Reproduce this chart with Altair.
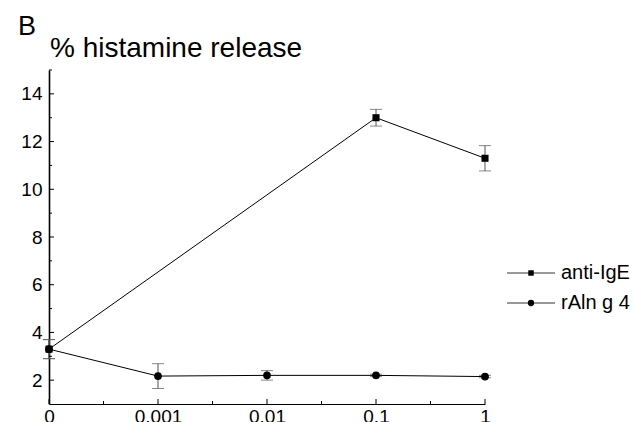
import json
import altair as alt
import pandas as pd

# ---- data ----
conc_labels = ["0", "0.001", "0.01", "0.1", "1"]

anti_ige_conc = ["0", "0.1", "1"]
anti_ige_mean = [3.3, 13.0, 11.3]
anti_ige_err = [0.4, 0.35, 0.53]

raln_conc = ["0", "0.001", "0.01", "0.1", "1"]
raln_mean = [3.3, 2.17, 2.2, 2.2, 2.15]
raln_err = [0.4, 0.52, 0.2, 0.05, 0.05]

series_names = ["anti-IgE", "rAln g 4"]

y_major = [2, 4, 6, 8, 10, 12, 14]
y_minor = [3, 5, 7, 9, 11, 13, 15]

FONT = "Liberation Sans"

rows = []
for name, concs, means, errs in [
    (series_names[0], anti_ige_conc, anti_ige_mean, anti_ige_err),
    (series_names[1], raln_conc, raln_mean, raln_err),
]:
    for c, m, e in zip(concs, means, errs):
        rows.append({"series": name, "conc": c, "pos": conc_labels.index(c),
                     "mean": m, "lo": m - e, "hi": m + e})
df = pd.DataFrame(rows)

x_major = list(range(len(conc_labels)))
x_minor = [i + 0.5 for i in range(len(conc_labels) - 1)]

xscale = alt.Scale(domain=[0, len(conc_labels) - 1], nice=False, zero=False)
yscale = alt.Scale(domain=[1, 15], nice=False, zero=False)

label_expr = json.dumps(conc_labels) + "[datum.value]"

XAXIS = alt.Axis(values=x_major, labelExpr=label_expr, ticks=False, tickSize=0,
                 grid=False, title=None, labelFontSize=19, labelFont=FONT,
                 labelColor="black", labelPadding=3, domainColor="black",
                 domainWidth=1.2, labelFlush=False, labelOverlap=False)
YAXIS = alt.Axis(values=y_major, ticks=False, tickSize=0, grid=False, title=None,
                 labelFontSize=19, labelFont=FONT, labelColor="black",
                 labelPadding=7, domainColor="black", domainWidth=1.6)


def X(field):
    return alt.X(field, scale=xscale, axis=XAXIS, title=None)


def Y(field):
    return alt.Y(field, scale=yscale, axis=YAXIS, title=None)


base = alt.Chart(df)

lines = base.mark_line(color="black", strokeWidth=1).encode(
    x=X("pos:Q"), y=Y("mean:Q"), detail="series:N", order="pos:Q",
)

err_rule = base.mark_rule(color="#555555", strokeWidth=1).encode(
    x=X("pos:Q"), y=Y("lo:Q"), y2="hi:Q",
)
cap_lo = base.mark_tick(color="#555555", thickness=1, size=12, orient="horizontal").encode(
    x=X("pos:Q"), y=Y("lo:Q"),
)
cap_hi = base.mark_tick(color="#555555", thickness=1, size=12, orient="horizontal").encode(
    x=X("pos:Q"), y=Y("hi:Q"),
)

points = base.mark_point(filled=True, opacity=1, color="black").encode(
    x=X("pos:Q"), y=Y("mean:Q"),
    shape=alt.Shape("series:N", scale=alt.Scale(domain=series_names, range=["square", "circle"]),
                    legend=None),
    size=alt.Size("series:N", scale=alt.Scale(domain=series_names, range=[50, 60]), legend=None),
)

# inward ticks
H = 334
ymaj = alt.Chart(pd.DataFrame({"v": y_major})).mark_rule(color="black", strokeWidth=1).encode(
    y=Y("v:Q"), x=alt.value(0), x2=alt.value(5))
ymin = alt.Chart(pd.DataFrame({"v": y_minor})).mark_rule(color="black", strokeWidth=1).encode(
    y=Y("v:Q"), x=alt.value(0), x2=alt.value(3))
xmaj = alt.Chart(pd.DataFrame({"v": x_major})).mark_rule(color="black", strokeWidth=1).encode(
    x=X("v:Q"), y=alt.value(H), y2=alt.value(H - 5))
xmin = alt.Chart(pd.DataFrame({"v": x_minor})).mark_rule(color="black", strokeWidth=1).encode(
    x=X("v:Q"), y=alt.value(H), y2=alt.value(H - 3))

# titles
panel = alt.Chart(pd.DataFrame({"t": ["B"]})).mark_text(
    font=FONT, fontSize=27, align="left", baseline="alphabetic", color="black"
).encode(text="t:N", x=alt.value(-31), y=alt.value(-35))
ytitle = alt.Chart(pd.DataFrame({"t": ["% histamine release"]})).mark_text(
    font=FONT, fontSize=28, align="left", baseline="alphabetic", color="black"
).encode(text="t:N", x=alt.value(1), y=alt.value(-13))

# legend (drawn by hand)
leg = []
for name, shape, sz, yy in [(series_names[0], "square", 30, 203), (series_names[1], "circle", 40, 233)]:
    ldf = pd.DataFrame({"t": [name]})
    leg.append(alt.Chart(ldf).mark_rule(color="#333333", strokeWidth=1).encode(
        x=alt.value(458), x2=alt.value(506), y=alt.value(yy)))
    leg.append(alt.Chart(ldf).mark_point(shape=shape, filled=True, opacity=1, color="black",
                                         size=sz).encode(x=alt.value(482), y=alt.value(yy)))
    leg.append(alt.Chart(ldf).mark_text(font=FONT, fontSize=20, align="left", baseline="middle",
                                        color="black").encode(
        text="t:N", x=alt.value(512), y=alt.value(yy)))

chart = alt.layer(
    lines, err_rule, cap_lo, cap_hi, points, ymaj, ymin, xmaj, xmin, panel, ytitle, *leg
).properties(
    width=436, height=H,
    autosize=alt.AutoSizeParams(type="none"),
    padding={"left": 49, "top": 70, "right": 149, "bottom": 18},
    background="white",
).configure_view(stroke=None)

chart.save("out.html", embed_options={"renderer": "svg", "actions": False})
